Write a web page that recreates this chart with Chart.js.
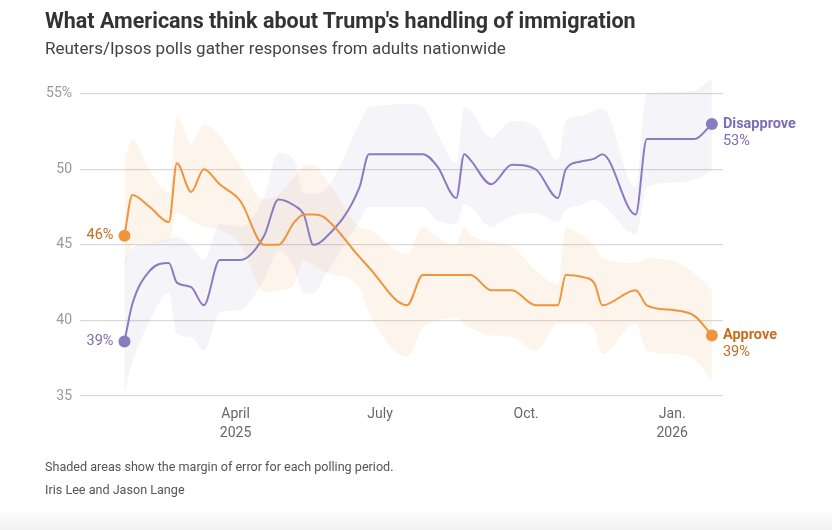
<!DOCTYPE html>
<html>
<head>
<meta charset="utf-8">
<script src="https://cdn.jsdelivr.net/npm/chart.js@4.4.1/dist/chart.umd.min.js"></script>
<style>
  body { margin: 0; width: 832px; height: 530px; position: relative; background: #fff; overflow: hidden; font-family: Roboto, sans-serif; }
  #chart { position: absolute; left: 0; top: 0; }
  .txt { position: absolute; left: 45px; white-space: nowrap; }
  #title { top: 8px; font-size: 21.5px; font-weight: 700; color: #333; }
  #subtitle { top: 38px; font-size: 17px; color: #444; }
  #note { top: 459px; font-size: 12.6px; color: #555; }
  #byline { top: 482px; font-size: 12.6px; color: #555; }
  #fade { position: absolute; left: 0; right: 0; top: 508px; height: 22px; background: linear-gradient(#fff, #f1f1f1); }
</style>
</head>
<body>
<canvas id="chart" width="832" height="530"></canvas>
<div class="txt" id="title">What Americans think about Trump's handling of immigration</div>
<div class="txt" id="subtitle">Reuters/Ipsos polls gather responses from adults nationwide</div>
<div class="txt" id="note">Shaded areas show the margin of error for each polling period.</div>
<div class="txt" id="byline">Iris Lee and Jason Lange</div>
<div id="fade"></div>
<script>
// poll dates (end of each polling period)
const pollDates = ['2025-01-21', '2025-01-26', '2025-02-06', '2025-02-18', '2025-02-23', '2025-03-04', '2025-03-12', '2025-03-22',
  '2025-04-04', '2025-04-19', '2025-04-28', '2025-05-08', '2025-05-14', '2025-05-20', '2025-05-27', '2025-06-18', '2025-06-24',
  '2025-07-18', '2025-07-28', '2025-08-06', '2025-08-18', '2025-08-23', '2025-08-27', '2025-09-09', '2025-09-22', '2025-10-07',
  '2025-10-21', '2025-10-26', '2025-11-04', '2025-11-13', '2025-11-18', '2025-12-09', '2025-12-16', '2025-12-31', '2026-01-15', '2026-01-26'];

const approve = [45.6, 48.3, 47.5, 46.5, 50.4, 48.5, 50.0, 49.0, 47.9, 45.0, 45.0, 46.5, 47.0, 47.0, 46.8, 44.2, 43.5, 41.0,
  43.0, 43.0, 43.0, 43.0, 43.0, 42.0, 42.0, 41.0, 41.0, 43.0, 42.9, 42.45, 41.0, 42.0, 41.0, 40.7, 40.3, 39.0];
const approveHigh = [50.5, 52.0, 49.9, 48.5, 53.5, 51.7, 53.0, 52.2, 50.2, 48.0, 48.3, 49.5, 50.2, 50.3, 49.5, 46.2, 46.0, 44.4,
  46.2, 45.5, 45.0, 46.2, 45.7, 45.2, 44.9, 43.3, 42.4, 46.1, 45.7, 44.9, 44.1, 43.8, 44.1, 44.0, 43.1, 42.0];
const approveLow = [43.5, 45.0, 45.1, 45.3, 47.1, 46.6, 46.2, 46.0, 45.0, 41.9, 42.0, 42.4, 44.0, 43.7, 43.2, 42.2, 40.5, 37.6,
  39.5, 40.0, 40.2, 39.7, 39.5, 39.0, 38.9, 38.0, 39.8, 39.8, 39.8, 39.4, 37.8, 39.8, 38.0, 37.8, 37.4, 36.1];

const disapprove = [38.6, 41.1, 43.3, 43.8, 42.5, 42.2, 41.0, 44.0, 44.0, 45.6, 48.0, 47.6, 47.0, 45.0, 45.4, 48.8, 51.0, 51.0,
  51.0, 50.2, 48.1, 51.0, 50.6, 49.0, 50.3, 50.0, 48.1, 50.0, 50.5, 50.7, 51.0, 47.0, 52.0, 52.0, 52.0, 53.0];
const disapproveHigh = [44.0, 44.8, 45.1, 45.4, 45.5, 44.9, 44.0, 46.4, 46.2, 48.2, 51.1, 50.6, 48.4, 48.4, 48.6, 53.0, 54.1, 54.3,
  54.1, 52.4, 50.4, 54.1, 53.9, 52.1, 53.2, 52.8, 50.6, 53.2, 53.5, 53.9, 54.0, 48.8, 55.0, 55.1, 55.2, 56.0];
const disapproveLow = [35.2, 37.2, 40.0, 41.8, 39.1, 38.9, 38.0, 40.5, 40.7, 42.7, 44.6, 43.5, 41.8, 41.8, 42.9, 46.6, 47.5, 47.5,
  47.5, 46.6, 46.4, 47.7, 47.5, 46.2, 46.9, 47.1, 46.5, 47.3, 47.6, 48.0, 47.7, 45.7, 48.8, 49.1, 49.3, 49.9];

const tickDates = ['2025-04-01', '2025-07-01', '2025-10-01', '2026-01-01'];
const tickLabels = [['April', '2025'], ['July'], ['Oct.'], ['Jan.', '2026']];
const axisStart = '2024-12-24';
const axisEnd = '2026-02-02';
const yTicks = [35, 40, 45, 50, 55];

const ORANGE = '#ef953d';
const ORANGE_TEXT = '#c86c1f';
const PURPLE = '#8b7bc1';
const PURPLE_TEXT = '#7d6db6';

// days since 1 Jan 2025
const day = s => (Date.parse(s) - Date.parse('2025-01-01')) / 864e5;
const days = pollDates.map(day);
const pts = vals => vals.map((v, i) => ({x: days[i], y: v}));
const last = days.length - 1;
const endDot = c => (c.dataIndex === 0 || c.dataIndex === last) ? 6 : 0;

const band = (vals, color, fill) => ({
  data: pts(vals),
  borderWidth: 0,
  pointRadius: 0,
  backgroundColor: color,
  fill: fill,
  cubicInterpolationMode: 'monotone',
  order: 2
});

const line = (vals, color) => ({
  data: pts(vals),
  borderColor: color,
  borderWidth: 2,
  pointRadius: endDot,
  pointBackgroundColor: color,
  pointBorderWidth: 0,
  fill: false,
  cubicInterpolationMode: 'monotone',
  order: 0
});

const endLabels = {
  id: 'endLabels',
  afterDatasetsDraw(chart) {
    const {ctx, scales: {x, y}} = chart;
    const x0 = x.getPixelForValue(days[0]) - 11;
    const x1 = x.getPixelForValue(days[last]) + 11;
    ctx.save();
    ctx.textBaseline = 'middle';
    ctx.font = '14.5px Roboto';
    ctx.textAlign = 'right';
    ctx.fillStyle = ORANGE_TEXT;
    ctx.fillText(Math.round(approve[0]) + '%', x0, y.getPixelForValue(approve[0]));
    ctx.fillStyle = PURPLE_TEXT;
    ctx.fillText(Math.round(disapprove[0]) + '%', x0, y.getPixelForValue(disapprove[0]));

    ctx.textAlign = 'left';
    const yd = y.getPixelForValue(disapprove[last]);
    const ya = y.getPixelForValue(approve[last]);
    ctx.fillStyle = PURPLE_TEXT;
    ctx.font = 'bold 14.5px Roboto';
    ctx.fillText('Disapprove', x1, yd);
    ctx.font = '14.5px Roboto';
    ctx.fillText(Math.round(disapprove[last]) + '%', x1, yd + 17);
    ctx.fillStyle = ORANGE_TEXT;
    ctx.font = 'bold 14.5px Roboto';
    ctx.fillText('Approve', x1, ya);
    ctx.font = '14.5px Roboto';
    ctx.fillText(Math.round(approve[last]) + '%', x1, ya + 17);
    ctx.restore();
  }
};

new Chart(document.getElementById('chart'), {
  type: 'line',
  data: {
    datasets: [
      band(approveHigh, 'rgba(240,150,70,0.1)', '+1'),
      band(approveLow, 'rgba(240,150,70,0.1)', false),
      band(disapproveHigh, 'rgba(120,110,180,0.08)', '+1'),
      band(disapproveLow, 'rgba(120,110,180,0.08)', false),
      line(approve, ORANGE),
      line(disapprove, PURPLE)
    ]
  },
  options: {
    responsive: false,
    animation: false,
    layout: { padding: { top: 71, right: 109, bottom: 0, left: 0 } },
    plugins: { legend: { display: false }, tooltip: { enabled: false } },
    scales: {
      x: {
        type: 'linear',
        min: day(axisStart),
        max: day(axisEnd),
        afterBuildTicks: axis => { axis.ticks = tickDates.map(d => ({value: day(d)})); },
        afterFit: axis => { axis.height = 134; },
        grid: { display: false },
        border: { display: false },
        ticks: {
          autoSkip: false,
          maxRotation: 0,
          padding: 1,
          color: '#666',
          font: { family: 'Roboto', size: 14, lineHeight: 1.35 },
          callback: (v, i) => tickLabels[i]
        }
      },
      y: {
        min: 35,
        max: 56.5,
        afterBuildTicks: axis => { axis.ticks = yTicks.map(v => ({value: v})); },
        afterFit: axis => { axis.width = 80; },
        grid: { color: '#dadada', lineWidth: 1.3, drawTicks: false },
        border: { display: false },
        ticks: {
          padding: 8,
          color: '#999',
          font: { family: 'Roboto', size: 14 },
          callback: v => v === 55 ? v + '%' : v
        }
      }
    }
  },
  plugins: [endLabels]
});
</script>
</body>
</html>
